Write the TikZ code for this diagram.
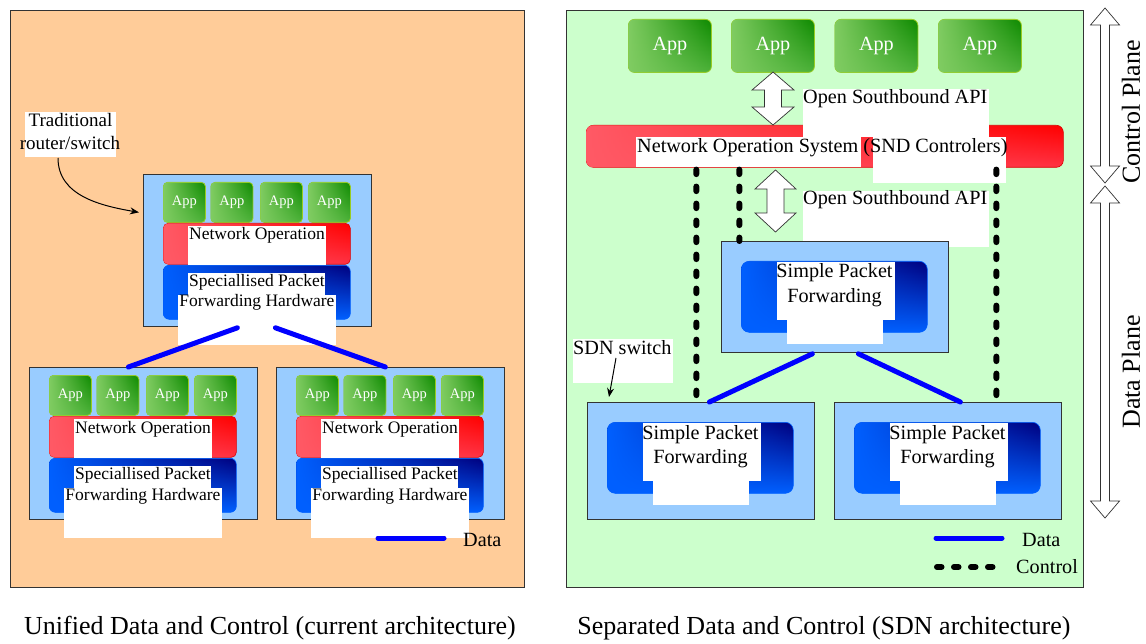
\documentclass[tikz,border=0pt]{standalone}
\usepackage{fontspec}
\setmainfont{Liberation Serif}
\usetikzlibrary{arrows.meta,calc,fadings}

\definecolor{peach}{HTML}{FFCC99}
\definecolor{mint}{HTML}{CCFFCC}
\definecolor{sky}{HTML}{99CCFF}
\definecolor{appdark}{HTML}{0E8A00}
\definecolor{appmid}{HTML}{4DB23A}
\definecolor{applight}{HTML}{80CC62}
\definecolor{appedge}{HTML}{99CC22}
\definecolor{redlight}{HTML}{FF5A66}
\definecolor{reddark}{HTML}{FF0000}
\definecolor{redmid}{HTML}{FF3344}
\definecolor{navy}{HTML}{00007F}
\definecolor{brightblue}{HTML}{0060FF}
\definecolor{edge}{HTML}{333333}
\definecolor{datablue}{HTML}{0000FF}

\newcommand\fsSmall{\fontsize{14.5}{16}\selectfont}
\newcommand\fsMid{\fontsize{17.5}{20}\selectfont}
\newcommand\fsLbl{\fontsize{19}{22}\selectfont}
\newcommand\fsBig{\fontsize{20.2}{24}\selectfont}
\newcommand\fsCap{\fontsize{26}{30}\selectfont}

\tikzset{
  panel/.style={draw=edge, line width=0.8pt, inner sep=0pt, anchor=north west},
  frame/.style={draw=edge, fill=sky, line width=0.8pt, inner sep=0pt, anchor=north west},
  appbox/.style={draw=appedge, line width=0.8pt, rounded corners=4pt,
    top color=appdark, bottom color=appmid,
    postaction={fill=applight, path fading=east},
    text=white, inner sep=0pt, anchor=north west},
  osbox/.style={draw=reddark!85!black, line width=0.6pt, rounded corners=5pt,
    top color=reddark, bottom color=redmid,
    postaction={fill=redlight, path fading=east},
    inner sep=0pt, anchor=north west},
  hwbox/.style={draw=brightblue, line width=0.6pt, rounded corners=6pt,
    top color=navy, bottom color=brightblue,
    postaction={fill=brightblue, path fading=east},
    inner sep=0pt, anchor=north west},
  txt/.style={inner sep=0pt, text=black},
  dataline/.style={draw=datablue, line width=5pt, line cap=round},
  ctrlline/.style={draw=black, line width=6pt, line cap=round, dash pattern=on 4.5pt off 12.5pt},
  hollow/.style={draw=black!80, fill=white, line width=0.7pt, line join=miter},
  pointer/.style={draw=black, line width=1pt, -{Stealth[length=9pt,width=7pt]}},
}

% double-headed hollow arrow: centre x, top y, bottom y, head half width, shaft half width, head length
\newcommand\hollowarrow[6]{%
  \draw[hollow] (#1,#2) -- (#1+#4,#2+#6) -- (#1+#5,#2+#6) -- (#1+#5,#3-#6)
    -- (#1+#4,#3-#6) -- (#1,#3) -- (#1-#4,#3-#6) -- (#1-#5,#3-#6)
    -- (#1-#5,#2+#6) -- (#1-#4,#2+#6) -- cycle;}

% traditional router: x, y of top-left corner, name
\newcommand\legacyrouter[3]{%
\begin{scope}[shift={(#1,#2)}]
  \node[frame, minimum width=228pt, minimum height=152pt] (#3) at (0,0) {};
  \foreach \ax [count=\i] in {20,67.5,117,165}
    \node[appbox, font=\fsSmall, minimum width=42pt, minimum height=40pt] (#3-app\i) at (\ax,8) {App};
  \node[osbox, minimum width=187pt, minimum height=41pt] (#3-os) at (20,49) {};
  \node[hwbox, minimum width=187pt, minimum height=54pt] (#3-hw) at (20,91) {};
  \fill[white] (45,52) rectangle (183,91);
  \fill[white] (45,99) rectangle (182,121);
  \fill[white] (35,121) rectangle (193,171);
  \node[txt, font=\fsMid, anchor=base] (#3-ostxt) at (114,66) {Network Operation};
  \node[txt, font=\fsMid, anchor=base] (#3-hwtxta) at (114,112.5) {Speciallised Packet};
  \node[txt, font=\fsMid, anchor=base] (#3-hwtxtb) at (114,133) {Forwarding Hardware};
\end{scope}}

% SDN switch: x, y of top-left corner, height, name
\newcommand\sdnswitch[4]{%
\begin{scope}[shift={(#1,#2)}]
  \node[frame, minimum width=227pt, minimum height=#3pt] (#4) at (0,0) {};
  \node[hwbox, rounded corners=8pt, minimum width=186pt, minimum height=71pt] (#4-hw) at (20,20) {};
  \fill[white] (56,21) rectangle (174,79);
  \fill[white] (65.5,79) rectangle (161.5,103);
  \node[txt, font=\fsBig, anchor=base] (#4-txta) at (113.5,37) {Simple Packet};
  \node[txt, font=\fsBig, anchor=base] (#4-txtb) at (113.5,61.5) {Forwarding};
\end{scope}}

\begin{document}
\begin{tikzpicture}[x=1pt, y=-1pt]
\useasboundingbox (0,0) rectangle (1146,644);
\fill[white] (0,0) rectangle (1146,644);

% ---------------- left: unified data and control ----------------
\node[panel, fill=peach, minimum width=514pt, minimum height=577pt] (leftpanel) at (10,10) {};

\legacyrouter{143}{174}{rtop}
\legacyrouter{29}{367}{rleft}
\legacyrouter{276}{367}{rright}

\draw[dataline] ([xshift=-20pt,yshift=-1pt]rtop.south) -- ([xshift=-15pt]rleft.north);
\draw[dataline] ([xshift=18pt,yshift=-1pt]rtop.south) -- ([xshift=-5pt]rright.north);

\fill[white] (25,112) rectangle (116,157);
\node[txt, font=\fsLbl, anchor=base] (tradA) at (70.5,127) {Traditional};
\node[txt, font=\fsLbl, anchor=base] (tradB) at (70,150) {router/switch};
\coordinate (tradStart) at (58,158);
\draw[pointer] (tradStart) to[out=-90, in=170] ([xshift=-4pt,yshift=38pt]rtop.west);

\coordinate (legLA) at (378,538);
\coordinate (legLB) at (444,538);
\draw[dataline] (legLA) -- (legLB);
\node[txt, font=\fsBig, anchor=base west] (legLtxt) at (463,546) {Data};

\node[txt, font=\fsCap, anchor=base] (capL) at (270,634) {Unified Data and Control (current architecture)};

% ---------------- right: separated data and control ----------------
\node[panel, fill=mint, minimum width=517pt, minimum height=577pt] (rightpanel) at (566,10) {};

\foreach \ax [count=\i] in {628,731,834.5,938}
  \node[appbox, rounded corners=6pt, font=\fsBig, minimum width=83pt, minimum height=53pt] (capp\i) at (\ax,19) {App};

\node[osbox, rounded corners=7pt, minimum width=477pt, minimum height=42pt] (nos) at (586,125) {};

\hollowarrow{773}{72}{125}{21}{8.5}{18}
\hollowarrow{775.5}{170}{232}{20.5}{8.5}{19}

\fill[white] (803,89) rectangle (989,137);
\fill[white] (636,137) rectangle (861,167);
\fill[white] (873,137) rectangle (1006,183);
\fill[white] (803,191) rectangle (989,247);
\node[txt, font=\fsBig, anchor=base west] (apiA) at (803,104) {Open Southbound API};
\node[txt, font=\fsBig, anchor=base west] (apiB) at (803,205) {Open Southbound API};
\node[txt, font=\fsBig, anchor=base west] (nostxt) at (637,153) {Network Operation System (SND Controlers)};

\sdnswitch{721}{241}{111}{swtop}
\sdnswitch{587}{402}{117}{swleft}
\sdnswitch{834}{402}{117}{swright}

\draw[dataline] ([xshift=-22.5pt,yshift=-1pt]swtop.south) -- ([xshift=8.5pt]swleft.north);
\draw[dataline] ([xshift=23.5pt,yshift=-1pt]swtop.south) -- ([xshift=12.5pt]swright.north);

\draw[ctrlline] ([xshift=-128.5pt,yshift=-2pt]nos.south) -- ([xshift=-4.5pt]swleft.north);
\draw[ctrlline] ([xshift=-85.5pt,yshift=-2pt]nos.south) -- ([xshift=-95.5pt]swtop.north);
\draw[ctrlline] ([xshift=171.5pt,yshift=-2pt]nos.south) -- ([xshift=48.5pt]swright.north);

\fill[white] (573,339) rectangle (673,383);
\node[txt, font=\fsBig, anchor=base west] (sdnlbl) at (573,354) {SDN switch};
\coordinate (sdnStart) at (616,358);
\draw[pointer] (sdnStart) -- ([xshift=22pt,yshift=5pt]swleft.north west);

\coordinate (legRA) at (936,538);
\coordinate (legRB) at (1002,538);
\coordinate (legRC) at (937,567);
\coordinate (legRD) at (1000,567);
\draw[dataline] (legRA) -- (legRB);
\draw[ctrlline] (legRC) -- (legRD);
\node[txt, font=\fsBig, anchor=base west] (legRdata) at (1022,546) {Data};
\node[txt, font=\fsBig, anchor=base west] (legRctrl) at (1016,573) {Control};

\node[txt, font=\fsCap, anchor=base] (capR) at (824,634) {Separated Data and Control (SDN architecture)};

% ---------------- plane markers ----------------
\hollowarrow{1105}{8}{183}{14.5}{4.5}{17}
\hollowarrow{1105}{186}{518}{14.5}{4.5}{17}
\node[txt, font=\fsCap, rotate=90] (cplane) at (1131,112) {Control Plane};
\node[txt, font=\fsCap, rotate=90] (dplane) at (1131,372) {Data Plane};
\end{tikzpicture}
\end{document}
